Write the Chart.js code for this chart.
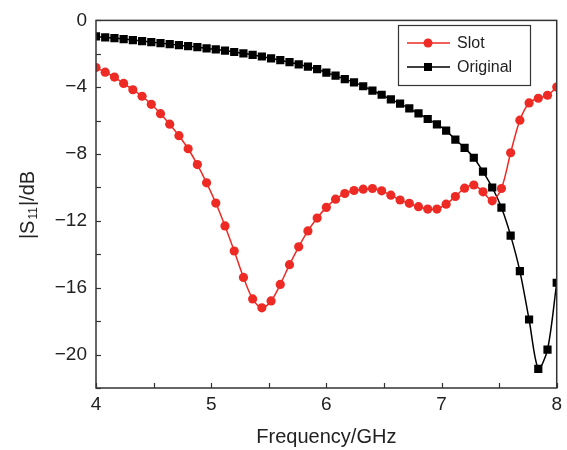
<!DOCTYPE html>
<html>
<head>
<meta charset="utf-8">
<script src="https://cdn.jsdelivr.net/npm/chart.js@4.4.1/dist/chart.umd.min.js"></script>
<style>
  html, body { margin: 0; padding: 0; background: #fff; }
  #wrap { width: 567px; height: 450px; }
</style>
</head>
<body>
<div id="wrap"><canvas id="s11-chart" width="567" height="450"></canvas></div>
<script>
// frequency points, GHz
const freq = [
  4.00, 4.08, 4.16, 4.24, 4.32, 4.40, 4.48, 4.56, 4.64, 4.72, 4.80, 4.88, 4.96,
  5.04, 5.12, 5.20, 5.28, 5.36, 5.44, 5.52, 5.60, 5.68, 5.76, 5.84, 5.92,
  6.00, 6.08, 6.16, 6.24, 6.32, 6.40, 6.48, 6.56, 6.64, 6.72, 6.80, 6.88, 6.96,
  7.04, 7.12, 7.20, 7.28, 7.36, 7.44, 7.52, 7.60, 7.68, 7.76, 7.84, 7.92, 8.00
];
// |S11| in dB
const slotS11 = [
  -2.82, -3.10, -3.39, -3.77, -4.15, -4.54, -5.02, -5.58, -6.21, -6.90, -7.68, -8.63, -9.72,
  -10.93, -12.30, -13.80, -15.38, -16.67, -17.20, -16.79, -15.80, -14.62, -13.55, -12.60, -11.83,
  -11.19, -10.70, -10.36, -10.18, -10.10, -10.06, -10.20, -10.46, -10.75, -10.95, -11.15, -11.29, -11.29,
  -11.00, -10.54, -10.04, -9.85, -10.26, -10.80, -10.06, -7.92, -5.97, -4.94, -4.66, -4.48, -3.99
];
const originalS11 = [
  -0.96, -1.02, -1.06, -1.12, -1.18, -1.24, -1.30, -1.36, -1.42, -1.48, -1.54, -1.60, -1.67,
  -1.74, -1.81, -1.89, -1.97, -2.06, -2.16, -2.27, -2.38, -2.50, -2.63, -2.77, -2.92,
  -3.12, -3.31, -3.51, -3.71, -3.94, -4.20, -4.45, -4.73, -4.98, -5.27, -5.57, -5.90, -6.22,
  -6.60, -7.14, -7.63, -8.22, -9.05, -10.00, -11.20, -12.88, -15.00, -17.90, -20.85, -19.70, -15.70
];
const seriesNames = ["Slot", "Original"];
const xTicks = [4, 5, 6, 7, 8];
const xMinor = [4.5, 5.5, 6.5, 7.5];
const yTicks = [-20, -16, -12, -8, -4, 0];
const yMinor = [-22, -18, -14, -10, -6, -2];

const RED = "#ee2a24";
const FONT = "Arial, 'Liberation Sans', sans-serif";
const TEXT = "#222";

const toPoints = (ys) => ys.map((y, i) => ({ x: freq[i], y: y }));

// frame, inside ticks, legend and axis titles
const framePlugin = {
  id: "frame",
  afterDraw(chart) {
    const ctx = chart.ctx;
    const a = chart.chartArea;
    const xs = chart.scales.x;
    const ys = chart.scales.y;
    ctx.save();
    ctx.strokeStyle = "#333";
    ctx.lineWidth = 1.5;
    ctx.strokeRect(a.left, a.top, a.right - a.left, a.bottom - a.top);

    ctx.lineWidth = 1.2;
    const tickLen = 5;
    xTicks.concat(xMinor).forEach((v) => {
      const px = Math.round(xs.getPixelForValue(v)) + 0.5;
      ctx.beginPath();
      ctx.moveTo(px, a.bottom);
      ctx.lineTo(px, a.bottom - tickLen);
      ctx.stroke();
    });
    yTicks.concat(yMinor).forEach((v) => {
      const py = Math.round(ys.getPixelForValue(v)) + 0.5;
      ctx.beginPath();
      ctx.moveTo(a.left, py);
      ctx.lineTo(a.left + tickLen, py);
      ctx.stroke();
    });

    // x title
    ctx.fillStyle = TEXT;
    ctx.font = "20px " + FONT;
    ctx.textAlign = "center";
    ctx.textBaseline = "middle";
    ctx.fillText("Frequency/GHz", (a.left + a.right) / 2, 437);

    // y title with subscript
    ctx.save();
    ctx.translate(28, 205);
    ctx.rotate(-Math.PI / 2);
    ctx.textAlign = "left";
    ctx.textBaseline = "middle";
    ctx.font = "20px " + FONT;
    const p1 = "|S", p3 = "|/dB";
    ctx.font = "20px " + FONT;
    const w1 = ctx.measureText(p1).width;
    const w3 = ctx.measureText(p3).width;
    ctx.font = "12px " + FONT;
    const w2 = ctx.measureText("11").width;
    let x0 = -(w1 + w2 + w3 + 2) / 2;
    ctx.font = "20px " + FONT;
    ctx.fillText(p1, x0, 0);
    ctx.font = "12px " + FONT;
    ctx.fillText("11", x0 + w1 + 1, 6);
    ctx.font = "20px " + FONT;
    ctx.fillText(p3, x0 + w1 + w2 + 2, 0);
    ctx.restore();

    // legend
    ctx.strokeStyle = "#333";
    ctx.lineWidth = 1.2;
    ctx.strokeRect(398.5, 25.5, 132, 60);
    ctx.font = "16px " + FONT;
    ctx.textAlign = "left";
    ctx.textBaseline = "middle";
    const rows = [43, 67];
    chart.data.datasets.forEach((ds, i) => {
      const y = rows[i];
      ctx.strokeStyle = ds.borderColor;
      ctx.lineWidth = 1.5;
      ctx.beginPath();
      ctx.moveTo(407, y);
      ctx.lineTo(450, y);
      ctx.stroke();
      ctx.fillStyle = ds.backgroundColor;
      if (ds.pointStyle === "rect") {
        ctx.fillRect(424, y - 4, 8, 8);
      } else {
        ctx.beginPath();
        ctx.arc(428, y, 4.5, 0, Math.PI * 2);
        ctx.fill();
      }
      ctx.fillStyle = TEXT;
      ctx.fillText(ds.label, 457, y + 1);
    });
    ctx.restore();
  },
};

const ctx = document.getElementById("s11-chart").getContext("2d");
const myChart = new Chart(ctx, {
  type: "line",
  data: {
    datasets: [
      {
        label: seriesNames[0],
        data: toPoints(slotS11),
        borderColor: RED,
        backgroundColor: RED,
        borderWidth: 1.5,
        pointStyle: "circle",
        pointRadius: 4.6,
        pointBorderWidth: 0,
        tension: 0.3,
        order: 0,
      },
      {
        label: seriesNames[1],
        data: toPoints(originalS11),
        borderColor: "#000",
        backgroundColor: "#000",
        borderWidth: 1.5,
        pointStyle: "rect",
        pointRadius: 5.8,
        pointBorderWidth: 0,
        tension: 0.3,
        order: 1,
      },
    ],
  },
  options: {
    responsive: false,
    animation: false,
    layout: { padding: { top: 16, right: 9, left: 0, bottom: 0 } },
    plugins: {
      legend: { display: false },
      tooltip: { enabled: false },
    },
    scales: {
      x: {
        type: "linear",
        min: 4,
        max: 8,
        afterBuildTicks: (s) => { s.ticks = xTicks.map((v) => ({ value: v })); },
        afterFit: (s) => { s.height = 62; },
        grid: { display: false, drawTicks: false },
        border: { display: false },
        ticks: {
          color: TEXT,
          font: { family: FONT, size: 19 },
          padding: 5,
          maxRotation: 0,
        },
      },
      y: {
        type: "linear",
        min: -22,
        max: 0,
        afterBuildTicks: (s) => { s.ticks = yTicks.map((v) => ({ value: v })); },
        afterFit: (s) => { s.width = 96; },
        grid: { display: false, drawTicks: false },
        border: { display: false },
        ticks: {
          color: TEXT,
          font: { family: FONT, size: 19 },
          padding: 9,
          callback: (v) => (v < 0 ? "\u2212" + Math.abs(v) : String(v)),
        },
      },
    },
  },
  plugins: [framePlugin],
});
</script>
</body>
</html>
